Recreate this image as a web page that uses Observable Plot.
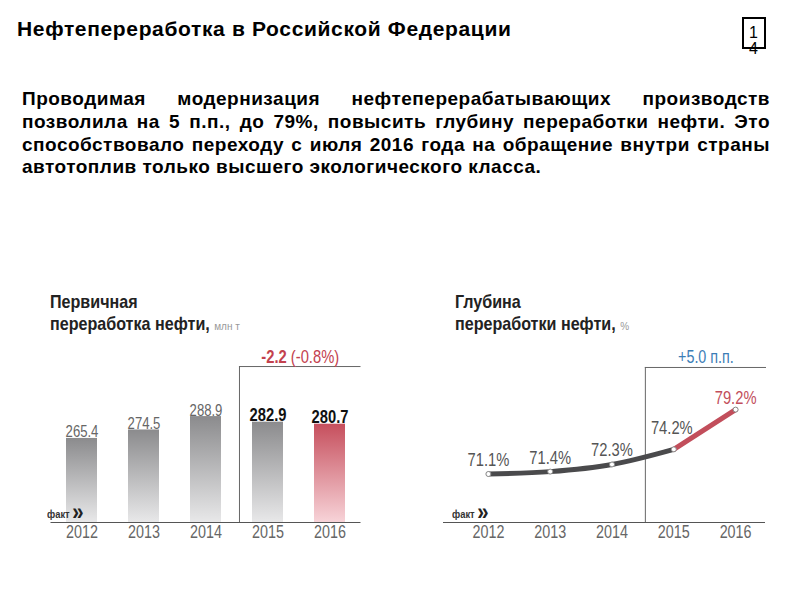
<!DOCTYPE html>
<html><head><meta charset="utf-8">
<script src="https://cdn.jsdelivr.net/npm/d3@7"></script>
<script src="https://cdn.jsdelivr.net/npm/@observablehq/plot@0.6"></script>
<style>
body{margin:0;background:#fff;}
#page{position:relative;width:800px;height:600px;overflow:hidden;font-family:"Liberation Sans",Arial,sans-serif;background:#fff;}
.abs{position:absolute;}
#title{left:17px;top:18px;font-size:21px;font-weight:bold;line-height:1;letter-spacing:0.65px;color:#000;white-space:nowrap;}
#para{left:22px;top:88px;width:748px;font-size:19px;font-weight:bold;line-height:22.8px;letter-spacing:0.5px;color:#000;}
#para div{text-align:justify;text-align-last:justify;}
#para div.last{text-align:left;text-align-last:left;}
#pg{left:742px;top:17px;width:24px;height:32px;box-sizing:border-box;border:2px solid #000;padding:6px 0 0 5px;font-size:16px;line-height:16px;color:#000;}
.ct{font-family:"Liberation Sans",Arial,sans-serif;font-size:18.5px;font-weight:bold;line-height:22px;color:#222;white-space:nowrap;transform:scaleX(0.87);transform-origin:0 0;}
.unit{font-size:11.5px;font-weight:normal;color:#999;}
.fakt{font-family:"Liberation Sans",Arial,sans-serif;font-weight:bold;color:#333;font-size:11px;line-height:16px;white-space:nowrap;transform:scaleX(0.85);transform-origin:0 0;z-index:5;}
.fakt b{font-size:24px;color:#222;letter-spacing:-3px;position:relative;top:2px;}
.chart{position:absolute;top:340px;}
</style></head>
<body>
<div id="page">
  <div id="title" class="abs"></div>
  <div id="pg" class="abs"></div>
  <div id="para" class="abs"></div>
  <div id="t1" class="abs ct" style="left:50px;top:291px;"></div>
  <div id="t2" class="abs ct" style="left:455px;top:291px;"></div>
  <div id="c1" class="chart" style="left:0px;"></div>
  <div id="c2" class="chart" style="left:400px;"></div>
  <div id="f1" class="abs fakt" style="left:47px;top:502px;"></div>
  <div id="f2" class="abs fakt" style="left:452px;top:502px;"></div>
</div>
<script>
// ---- data ----
const pageTitle = "Нефтепереработка в Российской Федерации";
const pageNumber = ["1", "4"];
const paragraphLines = [
  "Проводимая модернизация нефтеперерабатывающих производств",
  "позволила на 5 п.п., до 79%, повысить глубину переработки нефти. Это",
  "способствовало переходу с июля 2016 года на обращение внутри страны",
  "автотоплив только высшего экологического класса."
];
const years = [2012, 2013, 2014, 2015, 2016];
const yearLabels = ["2012", "2013", "2014", "2015", "2016"];
const primary = [265.4, 274.5, 288.9, 282.9, 280.7];
const primaryLabels = ["265.4", "274.5", "288.9", "282.9", "280.7"];
const depth = [71.1, 71.4, 72.3, 74.2, 79.2];
const depthLabels = ["71.1%", "71.4%", "72.3%", "74.2%", "79.2%"];
const title1 = ["Первичная", "переработка нефти,"]; const unit1 = "млн т";
const title2 = ["Глубина", "переработки нефти,"]; const unit2 = "%";
const note1Bold = "-2.2"; const note1Rest = "(-0.8%)";
const note2 = "+5.0 п.п.";
const factLabel = "факт";
const planStart = 2015;

// ---- page text ----
document.getElementById("title").textContent = pageTitle;
document.getElementById("pg").innerHTML = pageNumber.join("<br>");
const para = document.getElementById("para");
paragraphLines.forEach((s, i) => {
  const d = document.createElement("div");
  d.textContent = s;
  if (i === paragraphLines.length - 1) d.className = "last";
  para.appendChild(d);
});
document.getElementById("t1").innerHTML = title1[0] + "<br>" + title1[1] + ' <span class="unit">' + unit1 + "</span>";
document.getElementById("t2").innerHTML = title2[0] + "<br>" + title2[1] + ' <span class="unit">' + unit2 + "</span>";
document.getElementById("f1").innerHTML = factLabel + " <b>»</b>";
document.getElementById("f2").innerHTML = factLabel + " <b>»</b>";

const FONT = '"Liberation Sans",Arial,sans-serif';
const SX = 0.82; // horizontal condensing of chart text
const splitX = 2014.54;
const xMax = 2016.5, xMin = 2011.5;
const barHalf = 0.25;

function condense(svg) {
  d3.select(svg).selectAll("text").each(function() {
    const x = +this.getAttribute("x") || 0;
    const tr = this.getAttribute("transform") || "";
    this.setAttribute("transform", `${tr} translate(${x},0) scale(${SX},1) translate(${-x},0)`);
  });
}

// ---- left chart ----
const L = years.map((y, i) => ({year: y, value: primary[i], label: primaryLabels[i]}));
const base1 = 175, boxTop1 = 342.7;
const k1 = 0.93;
const chart1 = Plot.plot({
  width: 400, height: 210, marginLeft: 50.5, marginRight: 39.5, marginTop: 0, marginBottom: 28,
  style: {fontFamily: FONT, background: "transparent", overflow: "visible"},
  x: {domain: [xMin, xMax], range: [50.5, 360.5], axis: null},
  y: {domain: [base1, 350], range: [182, 182 - (350 - base1) * k1], axis: null},
  marks: [
    Plot.rectY(L.filter(d => d.year < 2016), {x1: d => d.year - barHalf, x2: d => d.year + barHalf, y1: base1, y2: "value", fill: "url(#gGray)"}),
    Plot.rectY(L.filter(d => d.year === 2016), {x1: d => d.year - barHalf, x2: d => d.year + barHalf, y1: base1, y2: "value", fill: "url(#gRed)"}),
    Plot.ruleY([base1], {stroke: "#555", strokeWidth: 1}),
    Plot.ruleX([splitX], {y1: base1, y2: boxTop1, stroke: "#666", strokeWidth: 1}),
    Plot.ruleY([boxTop1], {x1: splitX, x2: xMax, stroke: "#666", strokeWidth: 1}),
    Plot.text(L.filter(d => d.year < planStart), {x: "year", y: "value", text: "label", dy: -1, lineAnchor: "bottom", fontSize: 16, fill: "#666"}),
    Plot.text(L.filter(d => d.year >= planStart), {x: "year", y: "value", text: "label", dy: -1, lineAnchor: "bottom", fontSize: 18, fontWeight: "bold", fill: "#111"}),
    Plot.text([note1Bold + " " + note1Rest], {x: (splitX + xMax) / 2, y: boxTop1, text: d => d, dy: -4, lineAnchor: "bottom", fontSize: 18, fill: "#c3414e"}),
    Plot.axisX(years, {tickFormat: d => yearLabels[years.indexOf(d)], tickSize: 0, tickPadding: 3, fontSize: 17.5, fill: "#666", label: null})
  ]
});
const s1 = d3.select(chart1);
s1.insert("defs", ":first-child").html(
  '<linearGradient id="gGray" x1="0" y1="0" x2="0" y2="1"><stop offset="0" stop-color="#8b8b8d"/><stop offset="1" stop-color="#e8e8e9"/></linearGradient>' +
  '<linearGradient id="gRed" x1="0" y1="0" x2="0" y2="1"><stop offset="0" stop-color="#c64f5d"/><stop offset="1" stop-color="#f7d3d8"/></linearGradient>');
s1.selectAll("text").filter(function() { return this.textContent === note1Bold + " " + note1Rest; }).each(function() {
  const t = d3.select(this); t.text(null);
  t.append("tspan").attr("font-weight", "bold").text(note1Bold);
  t.append("tspan").text(" " + note1Rest);
});
condense(chart1);
document.getElementById("c1").appendChild(chart1);

// ---- right chart ----
const R = years.map((y, i) => ({year: y, value: depth[i], label: depthLabels[i]}));
const base2 = 65, boxTop2 = 84.5;
const k2 = 7.95;
const chart2 = Plot.plot({
  width: 400, height: 210, marginLeft: 43, marginRight: 35, marginTop: 0, marginBottom: 28,
  style: {fontFamily: FONT, background: "transparent", overflow: "visible"},
  x: {domain: [xMin, xMax], range: [57, 366], axis: null},
  y: {domain: [base2, 86], range: [182, 182 - (86 - base2) * k2], axis: null},
  marks: [
    Plot.ruleY([base2], {stroke: "#555", strokeWidth: 1}),
    Plot.ruleX([splitX], {y1: base2, y2: boxTop2, stroke: "#666", strokeWidth: 1}),
    Plot.ruleY([boxTop2], {x1: splitX, x2: xMax, stroke: "#666", strokeWidth: 1}),
    Plot.line(R.filter(d => d.year <= planStart), {x: "year", y: "value", stroke: "#4a4a4c", strokeWidth: 5, curve: "monotone-x"}),
    Plot.line(R.filter(d => d.year >= planStart), {x: "year", y: "value", stroke: "#c24e5b", strokeWidth: 5}),
    Plot.dot(R, {x: "year", y: "value", r: 2.5, fill: "white", stroke: "#888", strokeWidth: 1}),
    Plot.text(R.filter(d => d.year < planStart), {x: "year", y: "value", text: "label", dy: -8, lineAnchor: "bottom", fontSize: 18, fill: "#555"}),
    Plot.text(R.filter(d => d.year === planStart), {x: "year", y: "value", text: "label", dx: -2, dy: -15, lineAnchor: "bottom", fontSize: 18, fill: "#555"}),
    Plot.text(R.filter(d => d.year > planStart), {x: "year", y: "value", text: "label", dy: -6, lineAnchor: "bottom", fontSize: 18, fill: "#c24e5b"}),
    Plot.text([note2], {x: (splitX + xMax) / 2, y: boxTop2, text: d => d, dy: -4, lineAnchor: "bottom", fontSize: 17.5, fill: "#3c7db6"}),
    Plot.axisX(years, {tickFormat: d => yearLabels[years.indexOf(d)], tickSize: 0, tickPadding: 3, fontSize: 17.5, fill: "#666", label: null})
  ]
});
condense(chart2);
document.getElementById("c2").appendChild(chart2);
</script>
</body></html>
